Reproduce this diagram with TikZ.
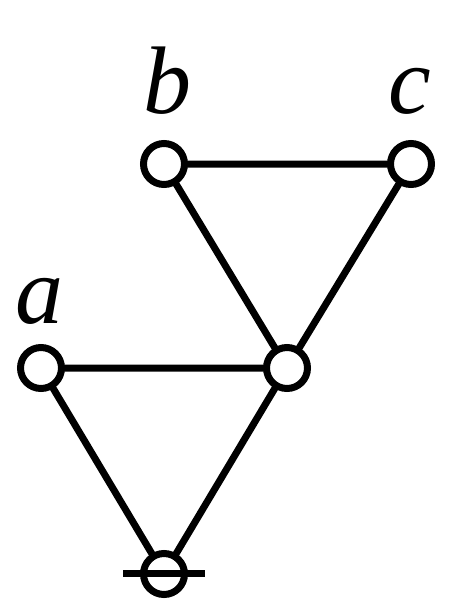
\documentclass[tikz,border=0pt]{standalone}
\usepackage{fontspec}
\setmainfont{Liberation Serif}
\begin{document}
\begin{tikzpicture}[x=1pt,y=-1pt,
  vert/.style={circle,draw=black,fill=white,line width=7pt,minimum size=41pt,inner sep=0pt},
  edge/.style={line width=7pt},
  lab/.style={anchor=base,inner sep=0pt,font=\fontsize{96}{110}\selectfont\itshape}]
\useasboundingbox (0,0) rectangle (452,600);
\coordinate (pa) at (41,368);
\coordinate (pb) at (164,164);
\coordinate (pc) at (411,164);
\coordinate (pm) at (287,368);
\coordinate (pz) at (164,574);
\draw[edge] (pb) -- (pc) (pb) -- (pm) (pc) -- (pm) (pa) -- (pm) (pa) -- (pz) (pm) -- (pz);
\node[vert] (a) at (pa) {};
\node[vert] (b) at (pb) {};
\node[vert] (c) at (pc) {};
\node[vert] (m) at (pm) {};
\node[vert] (z) at (pz) {};
\coordinate (zl) at (123,573);
\coordinate (zr) at (205,573);
\draw[edge] (zl) -- (zr);
\node[lab] (la) at (39,323) {a};
\node[lab] (lb) at (167,113) {b};
\node[lab] (lc) at (410,113) {c};
\end{tikzpicture}
\end{document}
